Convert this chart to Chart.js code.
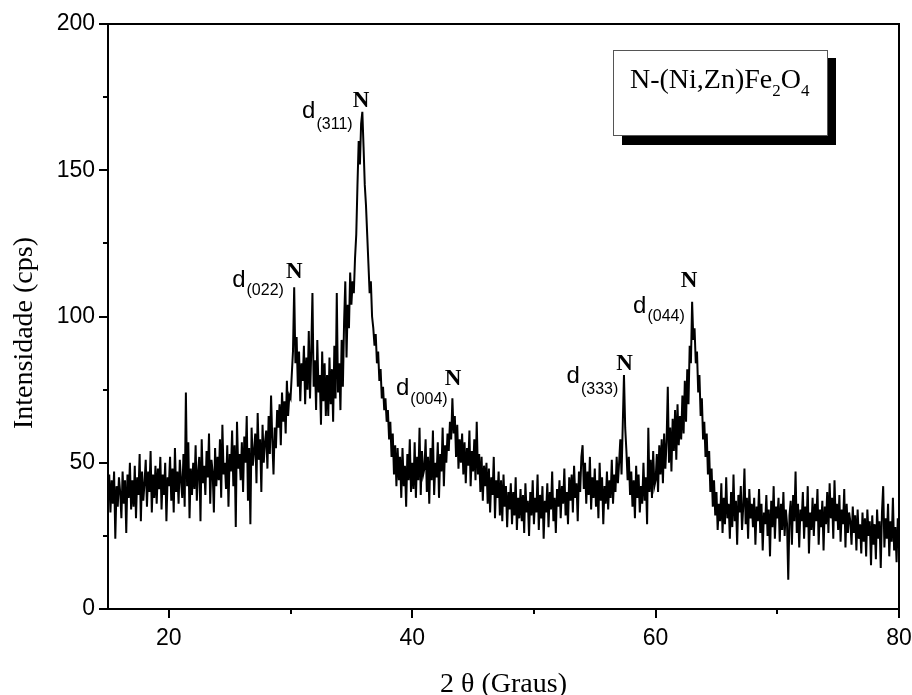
<!DOCTYPE html>
<html><head><meta charset="utf-8">
<script src="https://cdn.jsdelivr.net/npm/chart.js@4/dist/chart.umd.min.js"></script>
<style>html,body{margin:0;padding:0;background:#fff}#wrap{width:912px;height:695px}</style>
</head><body><div id="wrap"><canvas id="c" width="912" height="695"></canvas></div>
<script>
// 2-theta grid of the scan (degrees)
const thetaStart = 15, thetaStep = 0.1;
// Intensity (cps), one row per degree (x.0 ... x.9)
const intensity = [
 38,46,33,44,36,47,24,42,35,45,
 40,31,47,36,44,26,46,38,50,34,
 44,35,49,31,45,39,53,30,47,37,
 43,51,35,47,40,54,33,46,38,49,
 36,48,41,52,34,46,39,50,30,45,
 42,52,37,48,33,55,40,47,36,51,
 44,38,53,35,74,42,57,31,48,39,
 50,41,56,37,47,52,30,58,43,49,
 39,54,45,60,36,51,47,33,55,42,
 52,44,58,38,63,46,50,41,56,35,
 53,47,61,42,56,28,64,48,53,44,
 57,40,59,50,66,37,55,29,62,49,
 54,60,43,67,51,58,40,63,50,57,
 61,48,66,53,73,58,46,62,55,68,
 62,70,56,74,64,71,60,78,66,73,
 72,80,88,110,84,93,76,88,71,84,
 78,90,70,86,75,95,72,88,108,76,
 85,68,92,74,80,63,88,71,84,66,
 80,66,86,70,82,64,90,72,108,74,
 84,68,92,76,98,112,86,104,96,115,
 104,112,108,120,128,145,160,152,166,170,
 158,145,138,128,118,108,112,100,96,90,
 94,84,88,78,82,72,76,68,72,64,
 68,58,64,52,60,46,56,42,55,44,
 52,38,55,42,49,35,53,44,58,40,
 50,41,57,38,52,44,62,39,54,46,
 48,58,40,52,36,55,44,61,39,50,
 45,57,38,53,47,62,42,56,50,60,
 54,64,58,72,60,66,52,63,48,58,
 50,60,46,57,43,55,49,61,42,54,
 47,58,44,64,46,53,40,52,37,49,
 42,50,36,48,33,45,39,52,31,44,
 38,47,32,44,30,46,35,42,28,40,
 34,43,29,40,32,45,27,38,31,41,
 30,39,26,43,33,37,25,40,32,44,
 29,38,33,46,27,39,31,42,24,37,
 33,43,28,40,34,47,30,38,26,41,
 35,44,31,42,36,48,32,40,29,45,
 37,46,33,49,38,43,30,47,40,52,
 56,41,50,36,47,39,52,34,45,38,
 48,35,44,31,50,37,45,29,42,36,
 47,34,44,38,51,36,46,40,52,43,
 50,58,46,63,80,62,54,44,52,39,
 47,35,44,31,49,38,46,33,42,36,
 50,37,45,29,62,40,51,38,54,42,
 44,53,40,56,46,58,43,60,48,57,
 76,50,62,47,65,54,68,51,70,56,
 66,58,73,60,78,64,82,70,90,84,
 105,92,96,84,88,74,80,66,72,58,
 64,52,60,46,54,40,48,35,44,32,
 40,27,36,30,43,26,38,29,45,31,
 36,24,40,28,46,30,37,22,39,33,
 42,27,35,48,29,38,24,41,31,36,
 28,38,22,35,30,41,26,36,20,33,
 29,39,25,34,18,37,28,42,24,35,
 31,38,23,36,27,40,25,34,29,10,
 32,37,22,39,30,47,26,36,21,34,
 30,40,24,35,28,42,19,33,27,38,
 25,36,30,41,22,34,28,37,20,35,
 29,40,26,43,31,38,24,44,30,36,
 27,39,23,34,29,41,21,36,26,33,
 30,22,35,26,32,20,34,24,29,19,
 33,23,31,18,34,25,30,15,32,22,
 29,17,34,24,30,14,33,42,21,31,
 24,36,18,30,23,38,20,28,16,31,
 26
];
const xTickValues = [20,30,40,50,60,70,80];
const xTickLabels = ['20','','40','','60','','80'];
const yTickValues = [0,25,50,75,100,125,150,175,200];
const yTickLabels = ['0','','50','','100','','150','','200'];
// Peak annotations
const peakHkl   = ['022','311','004','333','044'];
const peakTheta = [30.3, 35.8, 43.35, 57.45, 62.75];
const peakLabelY = [113, 171.7, 76.5, 81.6, 110.2];
const phaseMark = 'N';
const xTitle = '2 θ (Graus)';
const yTitle = 'Intensidade (cps)';
const legendParts = ['N-(Ni,Zn)Fe','2','O','4'];

// label layout (pixel offsets relative to the "N" anchor)
const labelLayout = [
  {dx:-62, dDy:9,  sDy:17},
  {dx:-59, dDy:11, sDy:22},
  {dx:-57, dDy:10, sDy:19},
  {dx:-58, dDy:13, sDy:24},
  {dx:-56, dDy:26, sDy:34}
];

const points = intensity.map((v,i)=>({x: +(thetaStart + i*thetaStep).toFixed(2), y: v}));

const decor = {
  id:'decor',
  afterDraw(chart){
    const {ctx, chartArea:a, scales:{x,y}} = chart;
    ctx.save();
    ctx.strokeStyle = '#000';
    ctx.fillStyle = '#000';
    ctx.lineWidth = 2;
    ctx.strokeRect(a.left, a.top, a.right-a.left, a.bottom-a.top);
    // ticks
    ctx.beginPath();
    xTickValues.forEach((v,i)=>{
      const px = Math.round(x.getPixelForValue(v));
      const len = xTickLabels[i] ? 9 : 5;
      ctx.moveTo(px, a.bottom); ctx.lineTo(px, a.bottom+len);
    });
    yTickValues.forEach((v,i)=>{
      const py = Math.round(y.getPixelForValue(v));
      const len = yTickLabels[i] ? 9 : 5;
      ctx.moveTo(a.left, py); ctx.lineTo(a.left-len, py);
    });
    ctx.stroke();
    // axis titles
    ctx.font = '28px "Liberation Serif"';
    ctx.textAlign = 'center';
    ctx.textBaseline = 'alphabetic';
    ctx.fillText(xTitle, (a.left+a.right)/2, 692);
    ctx.save();
    ctx.translate(25, 333);
    ctx.rotate(-Math.PI/2);
    ctx.textBaseline = 'middle';
    ctx.fillText(yTitle, 0, 0);
    ctx.restore();
    // peak annotations
    peakHkl.forEach((h,i)=>{
      const cx = x.getPixelForValue(peakTheta[i]);
      const by = y.getPixelForValue(peakLabelY[i]);
      const L = labelLayout[i];
      ctx.textAlign = 'center';
      ctx.textBaseline = 'alphabetic';
      ctx.font = 'bold 23px "Liberation Serif"';
      ctx.fillText(phaseMark, cx, by);
      ctx.textAlign = 'left';
      ctx.font = '24px "Liberation Sans"';
      const dx = cx + L.dx;
      ctx.fillText('d', dx, by + L.dDy);
      const dw = ctx.measureText('d').width;
      ctx.font = '16px "Liberation Sans"';
      ctx.fillText('(' + h + ')', dx + dw + 1, by + L.sDy);
    });
    // legend box
    ctx.fillStyle = '#000';
    ctx.fillRect(622, 58, 214, 87);
    ctx.fillStyle = '#fff';
    ctx.fillRect(613, 50, 215, 86);
    ctx.lineWidth = 1;
    ctx.strokeStyle = '#555';
    ctx.strokeRect(613.5, 50.5, 214, 85);
    ctx.fillStyle = '#000';
    ctx.textAlign = 'left';
    let tx = 630;
    legendParts.forEach((p,i)=>{
      const sub = i % 2 === 1;
      ctx.font = sub ? '17px "Liberation Serif"' : '28px "Liberation Serif"';
      ctx.fillText(p, tx, sub ? 96 : 88);
      tx += ctx.measureText(p).width;
    });
    ctx.restore();
  }
};

new Chart(document.getElementById('c'), {
  type: 'scatter',
  data: { datasets: [{
    data: points,
    showLine: true,
    borderColor: '#000',
    borderWidth: 2,
    pointRadius: 0,
    tension: 0,
    fill: false
  }]},
  options: {
    responsive: false,
    animation: false,
    devicePixelRatio: 1,
    events: [],
    layout: { padding: { left: 0, top: 24, right: 13, bottom: 0 } },
    plugins: { legend: { display: false }, tooltip: { enabled: false } },
    scales: {
      x: {
        type: 'linear', min: 15, max: 80,
        afterBuildTicks: s => { s.ticks = xTickValues.map(v => ({value: v})); },
        afterFit: s => { s.height = 86; s.paddingLeft = 0; s.paddingRight = 0; },
        grid: { display: false, drawTicks: false },
        border: { display: false },
        ticks: {
          autoSkip: false, maxRotation: 0, padding: 16, color: '#000',
          font: { family: '"Liberation Sans"', size: 23 },
          callback: v => xTickLabels[xTickValues.indexOf(v)] ?? ''
        }
      },
      y: {
        type: 'linear', min: 0, max: 200,
        afterBuildTicks: s => { s.ticks = yTickValues.map(v => ({value: v})); },
        afterFit: s => { s.width = 108; s.paddingTop = 0; s.paddingBottom = 0; },
        grid: { display: false, drawTicks: false },
        border: { display: false },
        ticks: {
          autoSkip: false, padding: 13, color: '#000',
          font: { family: '"Liberation Sans"', size: 23 },
          callback: v => yTickLabels[yTickValues.indexOf(v)] ?? ''
        }
      }
    }
  },
  plugins: [decor]
});
</script>
</body></html>
